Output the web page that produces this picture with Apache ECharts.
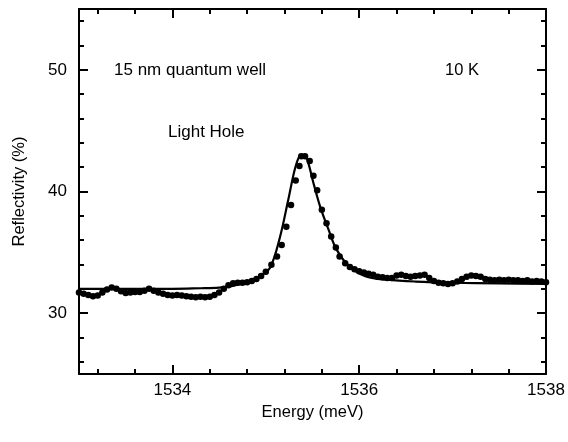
<!DOCTYPE html>
<html>
<head>
<meta charset="utf-8">
<script src="https://cdn.jsdelivr.net/npm/echarts@6/dist/echarts.min.js"></script>
<style>
html,body{margin:0;padding:0;background:#fff;}
#c{width:568px;height:442px;}
</style>
</head>
<body>
<div id="c"></div>
<script>
// Measured reflectivity (dots)
var dataEnergy = [
1533.00,1533.05,1533.10,1533.15,1533.20,1533.25,1533.30,1533.35,1533.40,1533.45,
1533.50,1533.55,1533.60,1533.65,1533.70,1533.75,1533.80,1533.85,1533.90,1533.95,
1534.00,1534.05,1534.10,1534.15,1534.20,1534.25,1534.30,1534.35,1534.40,1534.45,
1534.50,1534.55,1534.60,1534.65,1534.70,1534.75,1534.80,1534.85,1534.90,1534.95,
1535.00,1535.06,1535.12,1535.17,1535.22,1535.27,1535.32,1535.36,1535.38,1535.42,
1535.47,1535.51,1535.55,1535.60,1535.65,1535.70,1535.75,1535.79,1535.85,1535.90,
1535.95,1536.00,1536.05,1536.10,1536.15,1536.20,1536.25,1536.30,1536.35,1536.40,
1536.45,1536.50,1536.55,1536.60,1536.65,1536.70,1536.75,1536.80,1536.85,1536.90,
1536.95,1537.00,1537.05,1537.10,1537.15,1537.20,1537.25,1537.30,1537.35,1537.40,
1537.45,1537.50,1537.55,1537.60,1537.65,1537.70,1537.75,1537.80,1537.85,1537.90,
1537.95,1538.00
];
var dataReflectivity = [
31.7,31.6,31.5,31.4,31.45,31.7,31.95,32.1,32.0,31.8,
31.65,31.7,31.75,31.75,31.85,32.0,31.85,31.7,31.6,31.5,
31.45,31.5,31.45,31.4,31.35,31.3,31.35,31.3,31.35,31.5,
31.7,32.0,32.3,32.45,32.5,32.5,32.55,32.65,32.8,33.05,
33.4,33.97,34.65,35.6,37.1,38.9,40.9,42.1,42.9,42.9,
42.5,41.3,40.1,38.5,37.4,36.3,35.4,34.65,34.1,33.8,
33.6,33.45,33.35,33.25,33.15,33.0,32.95,32.9,32.9,33.1,
33.15,33.05,33.0,33.05,33.1,33.15,32.9,32.65,32.5,32.45,
32.4,32.45,32.6,32.8,33.0,33.1,33.05,33.0,32.8,32.75,
32.7,32.75,32.7,32.75,32.7,32.7,32.65,32.7,32.6,32.65,
32.6,32.55
];
// Fitted curve (solid line)
var fitEnergy = [1533.0,1533.5,1534.0,1534.3,1534.5,1534.62,1534.75,1534.85,1534.95,1535.05,1535.15,1535.24,1535.31,1535.36,1535.40,1535.44,1535.51,1535.58,1535.67,1535.76,1535.90,1536.08,1536.3,1536.6,1537.0,1537.5,1538.0];
var fitReflectivity = [32.0,32.0,32.0,32.05,32.1,32.2,32.45,32.65,33.1,33.8,36.2,39.3,41.8,42.9,43.0,42.7,40.7,38.8,36.9,35.2,33.8,33.0,32.75,32.6,32.5,32.45,32.4];

var xMajorTicks = [1534,1536,1538];
var xMinorTicks = [1533.2,1533.6,1534,1534.4,1534.8,1535.2,1535.6,1536,1536.4,1536.8,1537.2,1537.6,1538];
var yMajorTicks = [30,40,50];
var yMinorTicks = [26,28,30,32,34,36,38,40,42,44,46,48,50,52,54];

var FONT = 'Liberation Sans, Arial, Helvetica, sans-serif';
function zip(a,b){return a.map(function(v,i){return [v,b[i]];});}
function plain(v){return String(v);}

function xAx(pos, ticks, len, showLine, labels, name){
  var o = {
    type:'value', position:pos, min:1533, max:1538,
    axisLine:{show:showLine, onZero:false, lineStyle:{color:'#000', width:2}},
    axisTick:{show:true, inside:true, length:len, customValues:ticks, lineStyle:{color:'#000', width:2}},
    axisLabel:{show:!!labels, customValues:labels||[], formatter:plain, color:'#000', fontSize:17, fontFamily:FONT, margin:8},
    splitLine:{show:false}
  };
  if(name){o.name=name;o.nameLocation='middle';o.nameGap=23;o.nameTextStyle={color:'#000',fontSize:16.5,fontFamily:FONT};}
  return o;
}
function yAx(pos, ticks, len, showLine, labels, name){
  var o = {
    type:'value', position:pos, min:25, max:55,
    axisLine:{show:showLine, onZero:false, lineStyle:{color:'#000', width:2}},
    axisTick:{show:true, inside:true, length:len, customValues:ticks, lineStyle:{color:'#000', width:2}},
    axisLabel:{show:!!labels, customValues:labels||[], formatter:plain, color:'#000', fontSize:17, fontFamily:FONT, margin:12},
    splitLine:{show:false}
  };
  if(name){o.name=name;o.nameLocation='middle';o.nameGap=51;o.nameTextStyle={color:'#000',fontSize:16.5,fontFamily:FONT};}
  return o;
}

var chart = echarts.init(document.getElementById('c'), null, {renderer:'canvas'});
chart.setOption({
  animation:false,
  backgroundColor:'#fff',
  grid:{left:79, top:9, right:22, bottom:68, containLabel:false},
  xAxis:[
    xAx('bottom', xMinorTicks, 5, true, xMajorTicks, 'Energy (meV)'),
    xAx('bottom', xMajorTicks, 9, false, null),
    xAx('top', xMinorTicks, 5, true, null),
    xAx('top', xMajorTicks, 9, false, null)
  ],
  yAxis:[
    yAx('left', yMinorTicks, 5, true, yMajorTicks, 'Reflectivity (%)'),
    yAx('left', yMajorTicks, 9, false, null),
    yAx('right', yMinorTicks, 5, true, null),
    yAx('right', yMajorTicks, 9, false, null)
  ],
  graphic:[
    {type:'text', left:114, top:62, style:{text:'15 nm quantum well', fill:'#000', font:'17px '+FONT}},
    {type:'text', left:445, top:62, style:{text:'10 K', fill:'#000', font:'16.5px '+FONT}},
    {type:'text', left:168, top:124, style:{text:'Light Hole', fill:'#000', font:'17px '+FONT}}
  ],
  series:[
    {type:'line', xAxisIndex:0, yAxisIndex:0, data:zip(fitEnergy,fitReflectivity), smooth:0.35, showSymbol:false, symbol:'none',
     lineStyle:{color:'#000', width:2.2}},
    {type:'scatter', xAxisIndex:0, yAxisIndex:0, data:zip(dataEnergy,dataReflectivity), symbol:'circle', symbolSize:6.5,
     itemStyle:{color:'#000', opacity:1}}
  ]
});
</script>
</body>
</html>
